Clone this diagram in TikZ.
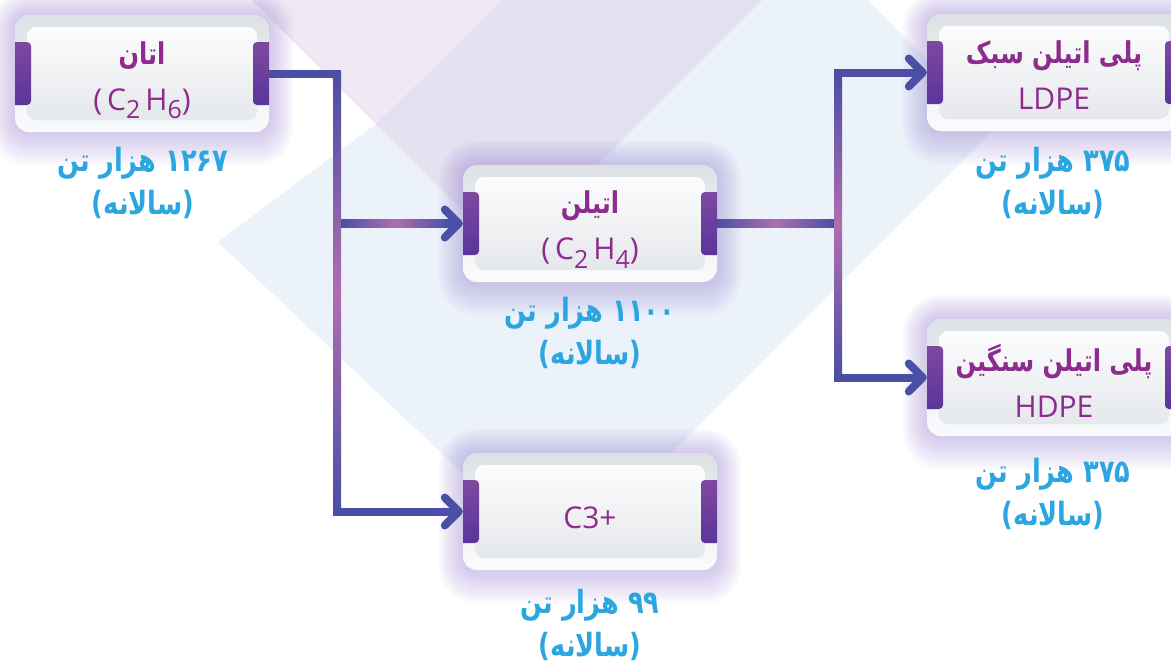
\documentclass[tikz,border=0pt]{standalone}
\usepackage{fontspec}
\setmainfont{Open Sans}
\newfontfamily\arabicfont[Script=Arabic,FakeStretch=0.8]{DejaVu Sans}
\newfontfamily\latinfont{Open Sans}
\TeXXeTstate=1
\usetikzlibrary{arrows.meta,calc}
\definecolor{cb}{HTML}{4A4FA5}
\definecolor{cp}{HTML}{B06DB0}
\definecolor{tabtop}{HTML}{7F48A0}
\definecolor{tabbot}{HTML}{59359A}
\definecolor{titlecol}{HTML}{8E2B8E}
\definecolor{numcol}{HTML}{2BA6E0}
\definecolor{rimtop}{HTML}{DDE1E5}
\definecolor{rimbot}{HTML}{FAFBFC}
\definecolor{panelbot}{HTML}{E2E5E9}
\definecolor{bgblue}{HTML}{EBF2FA}
\definecolor{bgpink}{HTML}{EFE7F3}
\definecolor{bglav}{HTML}{E4E1F0}
\definecolor{glowc}{HTML}{8E72D0}
\newcommand\chemsub[1]{\raisebox{-0.28em}{\fontsize{25}{25}\selectfont #1}}
\pgfdeclarelayer{bg}
\pgfdeclarelayer{glow}
\pgfsetlayers{bg,glow,main}
\begin{document}
\begin{tikzpicture}[x=1pt,y=-1pt,
  box/.style={rectangle, rounded corners=14pt, minimum width=254pt, minimum height=117pt,
    inner sep=0pt, top color=rimtop, bottom color=rimbot,
    path picture={
      \shade[top color=white, bottom color=panelbot, rounded corners=9pt]
        ([shift={(12pt,-12pt)}]path picture bounding box.north west) rectangle
        ([shift={(-12pt,12pt)}]path picture bounding box.south east);
      \shade[top color=tabtop, bottom color=tabbot, rounded corners=4pt]
        ([shift={(-8pt,-31.5pt)}]path picture bounding box.west) rectangle
        ([shift={(16pt,31.5pt)}]path picture bounding box.west);
      \shade[top color=tabtop, bottom color=tabbot, rounded corners=4pt]
        ([shift={(-16pt,-31.5pt)}]path picture bounding box.east) rectangle
        ([shift={(8pt,31.5pt)}]path picture bounding box.east);
    }},
  ttl/.style={align=center, text=titlecol, inner sep=0pt,
    font=\latinfont\fontsize{30}{46}\selectfont},
  count/.style={align=center, text=numcol, inner sep=0pt,
    font=\arabicfont\bfseries\fontsize{32}{43}\selectfont},
  conn/.style={line width=8pt, draw=cb, line join=miter},
  tipend/.style={-{Straight Barb[round,length=14pt,width=28pt]}},
  tipboth/.style={{Straight Barb[round,length=14pt,width=28pt]}-{Straight Barb[round,length=14pt,width=28pt]}}
]
\newcommand\fatitle[1]{{\arabicfont\bfseries\fontsize{30}{46}\selectfont\beginR #1\endR}}
\useasboundingbox (0,0) rectangle (1171,665);

% boxes
\node[box] (ethane) at (142,73.5) {};
\node[box] (ethylene) at (590,223.5) {};
\node[box] (c3) at (590,511.5) {};
\node[box] (ldpe) at (1054,72.5) {};
\node[box] (hdpe) at (1054,377.5) {};

% titles
\node[ttl] (ethanet) at ($(ethane)+(0,7)$) {\fatitle{اتان}\\(\,C\chemsub{2}\,H\chemsub{6})};
\node[ttl] (ethylenet) at ($(ethylene)+(0,6)$) {\fatitle{اتیلن}\\(\,C\chemsub{2}\,H\chemsub{4})};
\node[ttl] (c3t) at ($(c3)+(0,6)$) {C3+};
\node[ttl] (ldpet) at ($(ldpe)+(0,3)$) {\fatitle{پلی اتیلن سبک}\\LDPE};
\node[ttl] (hdpet) at ($(hdpe)+(0,3)$) {\fatitle{پلی اتیلن سنگین}\\HDPE};

% quantities
\node[count] (ethaneq) at (143,183) {\beginR ۱۲۶۷ هزار تن\endR\\\beginR(سالانه)\endR};
\node[count] (ethyleneq) at (590,333) {\beginR ۱۱۰۰ هزار تن\endR\\\beginR(سالانه)\endR};
\node[count] (c3q) at (590,625) {\beginR ۹۹ هزار تن\endR\\\beginR(سالانه)\endR};
\node[count] (ldpeq) at (1053,183) {\beginR ۳۷۵ هزار تن\endR\\\beginR(سالانه)\endR};
\node[count] (hdpeq) at (1053,494) {\beginR ۳۷۵ هزار تن\endR\\\beginR(سالانه)\endR};

\coordinate (busL) at (337,0);
\coordinate (busR) at (838,0);

% background
\begin{pgfonlayer}{bg}
  \clip (0,0) rectangle (1171,665);
  \fill[white] (0,0) rectangle (1171,665);
  \fill[bgblue] (218,242) -- (376,124) -- (503,0) -- (867,0) -- (995,128) -- (560,565) -- cycle;
  \fill[bgpink] (252,0) -- (762,0) -- (507,255) -- cycle;
  \fill[bglav] (503,0) -- (762,0) -- (507,255) -- (376,124) -- cycle;
\end{pgfonlayer}

% glow
\begin{pgfonlayer}{glow}
  \foreach \n in {ethane,ethylene,c3,ldpe,hdpe}{
    \foreach \i in {1,...,10}{
      \pgfmathsetmacro\d{\i*2.4}
      \pgfmathsetmacro\rr{14+\i*2.4}
      \fill[glowc, opacity=0.04, rounded corners=\rr pt]
        ($(\n.north west)+(-\d pt,\d pt)$) rectangle ($(\n.south east)+(\d pt,-1.4*\d pt)$);
    }
  }
\end{pgfonlayer}

% connectors
\draw[conn,tipend] (ethane.east) -| (busL|-c3.west) -- (c3.west);
\draw[conn,tipend] (busL|-ethylene.west) -- (ethylene.west);
\draw[conn] (ethylene.east) -- (busR|-ethylene.east);
\draw[conn,tipboth] (ldpe.west) -- (busR|-ldpe.west) -- (busR|-hdpe.west) -- (hdpe.west);

% gradient glow on connectors
\shade[top color=cb, bottom color=cb, middle color=cp]
  ($(busL|-ethane.east)+(-4pt,0)$) rectangle ($(busL|-c3.west)+(4pt,0)$);
\shade[left color=cb, right color=cb, middle color=cp]
  ($(busL|-ethylene.west)+(4pt,4pt)$) rectangle ($(ethylene.west)+(-14pt,-4pt)$);
\shade[left color=cb, right color=cb, middle color=cp]
  ($(ethylene.east)+(0,4pt)$) rectangle ($(busR|-ethylene.east)+(-4pt,-4pt)$);
\shade[top color=cb, bottom color=cb, middle color=cp]
  ($(busR|-ldpe.west)+(-4pt,0)$) rectangle ($(busR|-hdpe.west)+(4pt,0)$);
\end{tikzpicture}
\end{document}
